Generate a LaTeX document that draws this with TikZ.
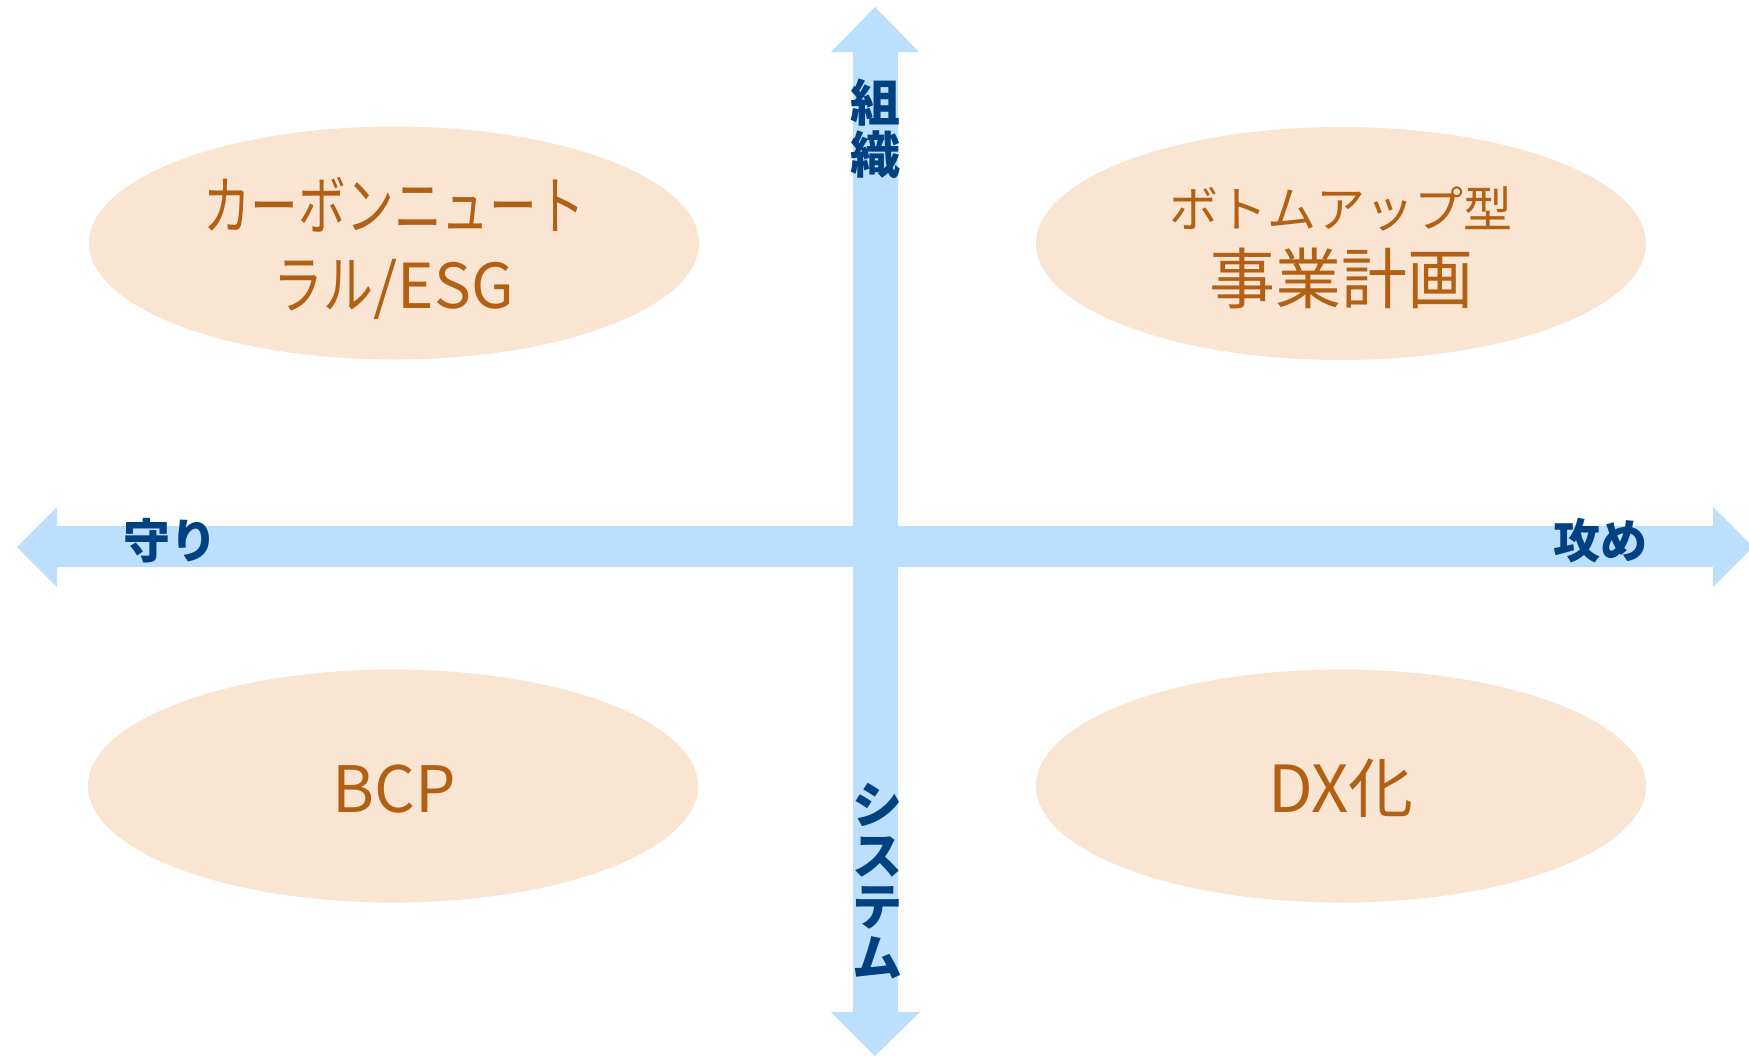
\documentclass[tikz,border=0pt]{standalone}
\usepackage{fontspec}
\usepackage{graphicx}
\setmainfont{Noto Sans CJK JP}
\newfontfamily\jp{Noto Sans CJK JP}
\definecolor{axisblue}{RGB}{188,223,253}
\definecolor{labelblue}{RGB}{0,65,130}
\definecolor{ovalfill}{RGB}{250,229,211}
\definecolor{ovaltext}{RGB}{178,96,20}
\tikzset{
  oval/.style={ellipse, fill=ovalfill, draw=none, minimum width=305pt, minimum height=116.5pt, inner sep=0pt},
  ovtxt/.style={anchor=base, inner sep=0pt, text=ovaltext, font=\jp},
  axlabel/.style={anchor=base, inner sep=0pt, text=labelblue, font=\jp\bfseries\fontsize{25}{30}\selectfont},
  hlabel/.style={axlabel, font=\jp\bfseries\fontsize{23.5}{28}\selectfont},
  axisarrow/.style={fill=axisblue, draw=none}
}
\usetikzlibrary{shapes.geometric}
\begin{document}
\begin{tikzpicture}[x=0.5pt, y=-0.5pt]
\useasboundingbox (0,0) rectangle (1749,1055);
% axes
\fill[axisarrow] (853,52) -- (831,52) -- (875,7) -- (919,52) -- (898,52) -- (898,1012) -- (920,1012) -- (875,1056) -- (831,1012) -- (853,1012) -- cycle;
\fill[axisarrow] (57,526) -- (57,507) -- (17,547) -- (57,587) -- (57,567) -- (1713,567) -- (1713,587) -- (1753,547) -- (1713,507) -- (1713,526) -- cycle;
% ovals
\node[oval] (tl) at (394,243) {};
\node[oval] (tr) at (1341,243.5) {};
\node[oval] (bl) at (393,786) {};
\node[oval] (br) at (1341,786) {};
% oval texts
\node[ovtxt] (tl1) at (394,229) {\fontsize{32}{38}\selectfont\scalebox{0.745}[1]{カーボンニュート}};
\node[ovtxt] (tl2) at (394,308) {\fontsize{32}{38}\selectfont\scalebox{0.78}[1]{ラル}\fontsize{31}{36}\selectfont /ESG};
\node[ovtxt] (tr1) at (1341,227) {\fontsize{24.5}{30}\selectfont ボトムアップ型};
\node[ovtxt] (tr2) at (1341,303) {\fontsize{33}{40}\selectfont 事業計画};
\node[ovtxt] (bl1) at (394,812) {\fontsize{32}{38}\selectfont BCP};
\node[ovtxt] (br1) at (1341,812) {\fontsize{32.5}{38}\selectfont DX化};
% axis labels
\node[axlabel] (o1) at (875,121) {組};
\node[axlabel] (o2) at (875,173) {織};
\node[hlabel] (def) at (170,558) {守り};
\node[hlabel] (att) at (1600,558) {攻め};
\node[axlabel] (s1) at (877,823) {シ};
\node[axlabel] (s2) at (877,874) {ス};
\node[axlabel] (s3) at (877,925) {テ};
\node[axlabel] (s4) at (877,976) {ム};
\end{tikzpicture}
\end{document}
